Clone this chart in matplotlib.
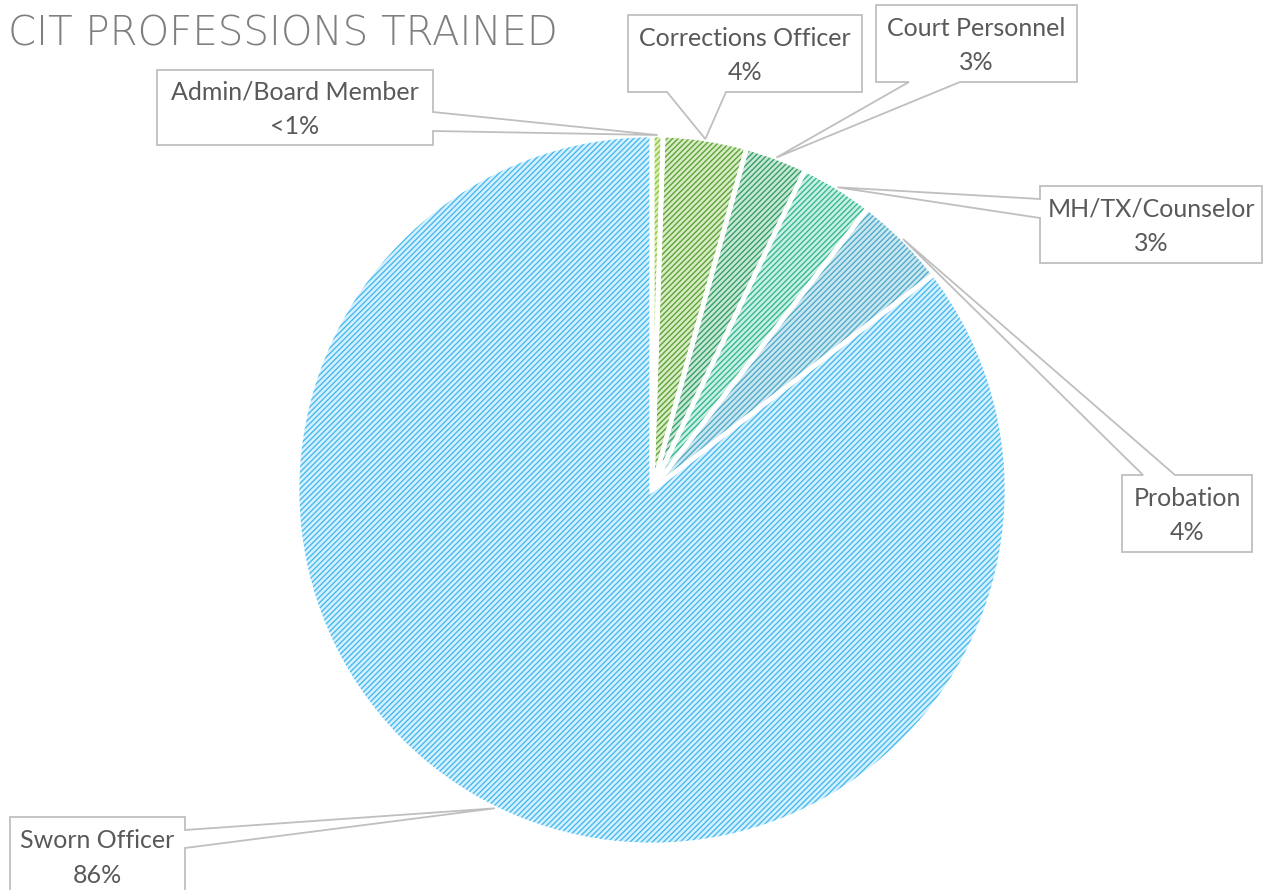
import numpy as np
import matplotlib
matplotlib.use("Agg")
import matplotlib.pyplot as plt
from matplotlib.patches import Wedge, Polygon

# data (percent of trained participants)
labels = ["Admin/Board Member", "Corrections Officer", "Court Personnel",
          "MH/TX/Counselor", "Probation", "Sworn Officer"]
values = [0.5, 3.8, 2.8, 3.3, 4.2, 85.4]
pct_text = ["<1%", "4%", "3%", "3%", "4%", "86%"]

fill_colors = ["#D9EDB5", "#D8ECC5", "#C8E8D5", "#CBEFE4", "#CCE7F0", "#D6F1FD"]
hatch_colors = ["#8DC63F", "#5FA33A", "#35A06A", "#34B993", "#4FADCB", "#48BAF0"]

W, H = 1264, 890
cx, cy, R = 652, 490, 355

# label boxes in image pixels: (left, top, right, bottom), pointer side, pointer base (a, b)
boxes = [
    ((157, 70, 433, 145), "right", (112, 131)),
    ((628, 15, 862, 92), "bottom", (667, 726)),
    ((876, 5, 1077, 82), "bottom", (909, 960)),
    ((1040, 186, 1262, 263), "left", (199, 218)),
    ((1122, 475, 1252, 552), "top", (1143, 1175)),
    ((10, 817, 185, 900), "right", (830, 848)),
]

plt.rcParams['hatch.linewidth'] = 1.0
fig = plt.figure(figsize=(W / 100, H / 100), dpi=100)
ax = fig.add_axes([0, 0, 1, 1])

def Y(y):
    return H - y

wedges, _ = ax.pie(values, colors=fill_colors, center=(cx, Y(cy)), radius=R,
                   startangle=90, counterclock=False, frame=True,
                   wedgeprops=dict(edgecolor="none", linewidth=0))

# hatch overlay + white separators
for w, hc in zip(wedges, hatch_colors):
    ax.add_patch(Wedge(w.center, w.r, w.theta1, w.theta2, facecolor="none",
                       edgecolor=hc, hatch="//////", linewidth=0, zorder=2))
    ax.add_patch(Wedge(w.center, w.r, w.theta1, w.theta2, facecolor="none",
                       edgecolor="white", linewidth=3.4, zorder=3))

# callout boxes
for w, lab, pt, (box, side, base) in zip(wedges, labels, pct_text, boxes):
    mid = np.deg2rad((w.theta1 + w.theta2) / 2)
    tip = (w.center[0] + w.r * np.cos(mid), w.center[1] + w.r * np.sin(mid))
    l, t, r, b = box
    a, c = base
    if side == "right":
        pts = [(l, Y(t)), (r, Y(t)), (r, Y(a)), tip, (r, Y(c)), (r, Y(b)), (l, Y(b))]
    elif side == "left":
        pts = [(l, Y(t)), (r, Y(t)), (r, Y(b)), (l, Y(b)), (l, Y(c)), tip, (l, Y(a))]
    elif side == "bottom":
        pts = [(l, Y(t)), (r, Y(t)), (r, Y(b)), (c, Y(b)), tip, (a, Y(b)), (l, Y(b))]
    else:
        pts = [(l, Y(t)), (a, Y(t)), tip, (c, Y(t)), (r, Y(t)), (r, Y(b)), (l, Y(b))]
    ax.add_patch(Polygon(pts, closed=True, facecolor="white", edgecolor="#BFBFBF",
                         linewidth=1.3, zorder=4))
    ty = (t + b) / 2 + 2 if b < H else t + 41
    ax.text((l + r) / 2, Y(ty), lab + "\n" + pt, ha="center", va="center",
            fontsize=18, family="Lato", color="#595959", linespacing=1.6, zorder=5)

fig.text(8 / W, Y(34) / H, "CIT PROFESSIONS TRAINED", ha="left", va="center",
         fontsize=29, family="DejaVu Sans", fontweight="light", color="#7F7F7F")

ax.set_xlim(0, W)
ax.set_ylim(0, H)
ax.set_aspect("equal")
ax.axis("off")

fig.savefig("out.png", dpi=100, facecolor="white")
